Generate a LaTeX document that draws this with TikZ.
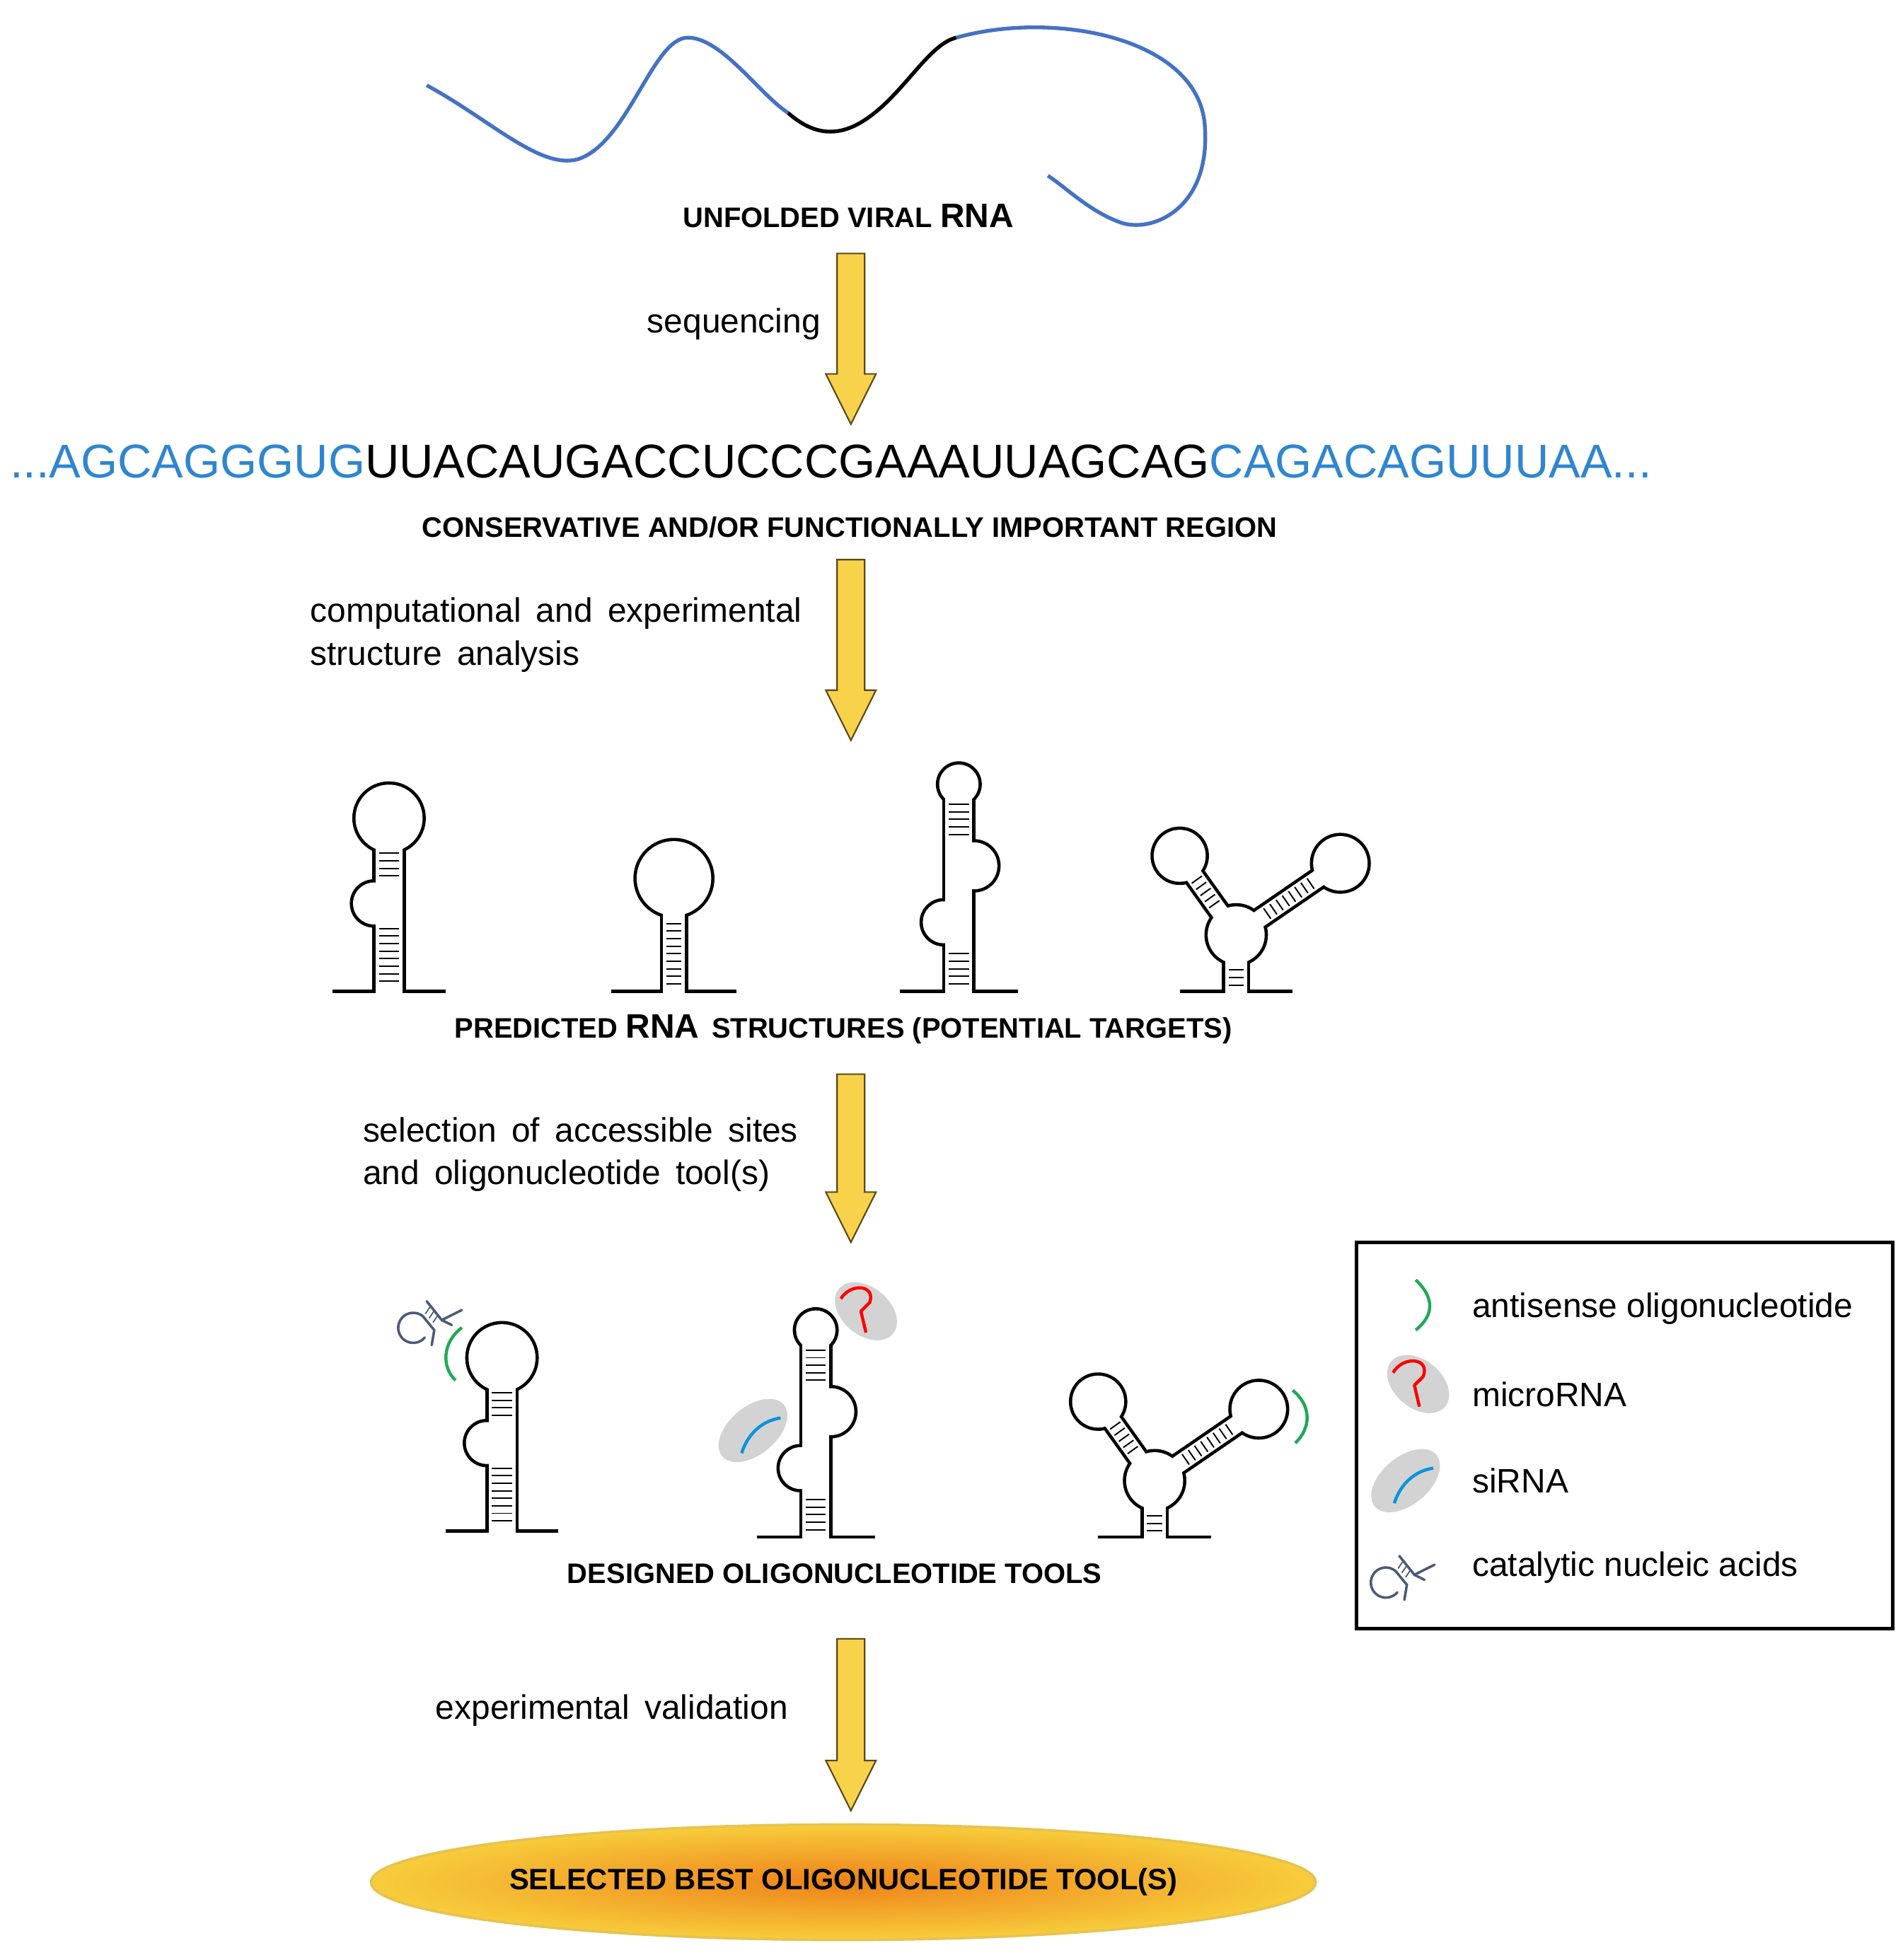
\documentclass[tikz,border=0pt]{standalone}
\usepackage{fontspec}
\setmainfont{Liberation Sans}
\usetikzlibrary{shapes.geometric,calc}
\definecolor{seqblue}{HTML}{2F86D0}
\definecolor{rnablue}{HTML}{4472C4}
\definecolor{yfill}{HTML}{F8D24B}
\definecolor{ydraw}{HTML}{5A4A1A}
\definecolor{catc}{HTML}{4A5A78}
\definecolor{agreen}{HTML}{1FAA55}
\definecolor{ogray}{HTML}{D3D3D3}
\newcommand\stm[3]{\draw[line cap=butt,line width={2*#3+\lw},draw=\col] #1 -- #2;}
\newcommand\crc[2]{\fill[\col] #1 circle[radius={#2+\lw/2}];}
\newcommand\twopass[1]{\def\lw{2.6}\def\col{black}#1\def\lw{0-2.6}\def\col{white}#1}
\newcommand\shA{\stm{(0,0)}{(0,-138)}{12}\crc{(0,-138)}{28}\crc{(-12,-70)}{18}}
\newcommand\shB{\stm{(0,0)}{(0,-90)}{10}\crc{(0,-90)}{31}}
\newcommand\shC{\stm{(0,0)}{(0,-165)}{12}\crc{(0,-165)}{17}\crc{(-12,-55)}{18}\crc{(12,-100)}{20}}
\newcommand\shD{\stm{(0,0)}{(0,-45)}{10}\crc{(0,-45)}{24}\stm{(0,-45)}{(-45,-108)}{8}\crc{(-45,-108)}{22}\stm{(0,-45)}{(83,-102)}{8}\crc{(83,-102)}{23}}
\newcommand\yarrow[2]{\draw[yarr] ($(#1)+(-11,0)$) -- ($(#2)+(-11,-40)$) -- ($(#2)+(-20,-40)$) -- (#2) -- ($(#2)+(20,-40)$) -- ($(#2)+(11,-40)$) -- ($(#1)+(11,0)$) -- cycle;}
\tikzset{
 ln/.style={line width=2.6pt},
 rung/.style={line width=1.1pt},
 yarr/.style={fill=yfill,draw=ydraw,line width=1.2pt,line join=miter},
 lab/.style={font=\fontsize{27}{34}\selectfont,align=left,inner sep=0},
 captxt/.style={font=\fontsize{22.5}{26}\selectfont\bfseries,inner sep=0},
 cat/.style={draw=catc,line width=2pt,line cap=round},
 hpA/.pic={\twopass{\shA}
  \draw[ln] (-45,0)--(-10.7,0) (10.7,0)--(45,0);
  \foreach \y in {-8,-14,...,-50} \draw[rung] (-8,\y)--(8,\y);
  \foreach \y in {-92,-98,...,-112} \draw[rung] (-8,\y)--(8,\y);},
 hpB/.pic={\twopass{\shB}
  \draw[ln] (-50,0)--(-8.7,0) (8.7,0)--(50,0);
  \foreach \y in {-6,-12,...,-56} \draw[rung] (-6,\y)--(6,\y);},
 hpC/.pic={\twopass{\shC}
  \draw[ln] (-47,0)--(-10.7,0) (10.7,0)--(47,0);
  \foreach \y in {-6,-12,...,-30} \draw[rung] (-8,\y)--(8,\y);
  \foreach \y in {-125,-131,...,-150} \draw[rung] (-8,\y)--(8,\y);},
 hpD/.pic={\twopass{\shD}
  \draw[ln] (-45,0)--(-8.7,0) (8.7,0)--(45,0);
  \foreach \y in {-5,-11,-17} \draw[rung] (-6,\y)--(6,\y);
  \begin{scope}[shift={(0,-45)},rotate=125.5]
   \foreach \t in {30,36,...,54} \draw[rung] (\t,-5)--(\t,5);
  \end{scope}
  \begin{scope}[shift={(0,-45)},rotate=34.5]
   \foreach \t in {30,36,...,76} \draw[rung] (\t,-5)--(\t,5);
  \end{scope}},
 catal/.pic={
  \draw[cat] (7,9) arc[start angle=-50,end angle=-320,radius=12];
  \draw[cat] (7,9) -- (16,20) -- (14,32);
  \draw[cat] (10,-3) -- (22,12) -- (38,4);
  \draw[cat] (22,12) -- (30,16);
  \foreach \k in {0,1,2} \draw[catc,line width=1pt] ($(9,7)+(\k*3,\k*3.5)$) -- ($(13,1)+(\k*3,\k*3.5)$);}
}
\begin{document}
\begin{tikzpicture}[x=1pt,y=-1pt]
\useasboundingbox (0,0) rectangle (1516,1562);
% unfolded RNA
\draw[rnablue,line width=3pt] (340,68) .. controls (390,95) and (430,135) .. (460,127) .. controls (500,115) and (520,30) .. (548,30) .. controls (575,30) and (605,75) .. (628,90);
\draw[black,line width=3pt] (628,90) .. controls (645,105) and (665,112) .. (690,95) .. controls (720,75) and (740,35) .. (762,30);
\draw[rnablue,line width=3pt] (762,30) .. controls (840,8) and (955,30) .. (960,100) .. controls (965,165) and (920,185) .. (895,178) .. controls (870,170) and (850,150) .. (835,140);
\node[captxt] (t1) at (676,172) {UNFOLDED VIRAL {\fontsize{27}{30}\selectfont RNA}};
% sequence
\node[inner sep=0] (seq) at (662,368) {\resizebox{1308pt}{!}{\fontsize{39}{44}\selectfont\textcolor{seqblue}{...AGCAGGGUG}UUACAUGACCUCCCGAAAUUAGCAG\textcolor{seqblue}{CAGACAGUUUAA...}}};
\node[captxt] (t2) at (677,420) {CONSERVATIVE AND/OR FUNCTIONALLY IMPORTANT REGION};
\node[captxt] (t3) at (672,820) {PREDICTED {\fontsize{27}{30}\selectfont RNA} \,STRUCTURES (POTENTIAL TARGETS)};
\node[captxt] (t4) at (665,1254) {DESIGNED OLIGONUCLEOTIDE TOOLS};
% arrows
\coordinate (a1) at (678,202); \coordinate (b1) at (678,338);
\coordinate (a2) at (678,446); \coordinate (b2) at (678,590);
\coordinate (a3) at (678,856); \coordinate (b3) at (678,990);
\coordinate (a4) at (678,1306); \coordinate (b4) at (678,1443);
\yarrow{a1}{b1}\yarrow{a2}{b2}\yarrow{a3}{b3}\yarrow{a4}{b4}
\node[lab,anchor=east] (l1) at (654,258) {sequencing};
\node[lab,anchor=west] (l2) at (247,506) {computational \,and \,experimental\\structure \,analysis};
\node[lab,anchor=west] (l3) at (289,920) {selection \,of \,accessible \,sites\\and \,oligonucleotide \,tool(s)};
\node[lab,anchor=west] (l4) at (347,1363) {experimental \,validation};
% predicted structures
\pic at (310,790) {hpA};
\pic at (537,790) {hpB};
\pic at (764,790) {hpC};
\pic at (985,790) {hpD};
% designed tools
\pic at (400,1220) {hpA};
\pic at (650,1225) {hpC};
\pic at (920,1225) {hpD};
\pic at (330,1040) {catal};
\draw[agreen,line width=2.5pt] (368,1058) .. controls (352,1070) and (352,1090) .. (363,1100);
\fill[ogray,rotate around={-40:(690,1045)}] (690,1045) ellipse[x radius=28,y radius=19];
\draw[red,line width=2.5pt,line join=round] (670,1035) .. controls (678,1022) and (698,1024) .. (693,1038) -- (686,1045) -- (690,1062);
\fill[ogray,rotate around={40:(600,1140)}] (600,1140) ellipse[x radius=32,y radius=19];
\draw[cyan!80!blue,line width=2.5pt] (591,1158) .. controls (596,1142) and (608,1132) .. (622,1130);
\draw[agreen,line width=2.5pt] (1030,1108) .. controls (1045,1120) and (1045,1138) .. (1032,1150);
% legend
\draw[line width=3pt] (1081,990) rectangle (1508,1298);
\draw[agreen,line width=2.5pt] (1128,1020) .. controls (1143,1034) and (1143,1048) .. (1128,1060);
\fill[ogray,rotate around={-40:(1130,1103)}] (1130,1103) ellipse[x radius=28,y radius=19];
\draw[red,line width=2.5pt,line join=round] (1110,1094) .. controls (1118,1080) and (1140,1082) .. (1134,1097) -- (1127,1104) -- (1131,1121);
\fill[ogray,rotate around={40:(1120,1180)}] (1120,1180) ellipse[x radius=32,y radius=19];
\draw[cyan!80!blue,line width=2.5pt] (1111,1198) .. controls (1116,1182) and (1128,1172) .. (1142,1170);
\pic at (1105,1243) {catal};
\node[lab,anchor=west] (g1) at (1173,1043) {antisense oligonucleotide};
\node[lab,anchor=west] (g2) at (1173,1111) {microRNA};
\node[lab,anchor=west] (g3) at (1173,1180) {siRNA};
\node[lab,anchor=west] (g4) at (1173,1249) {catalytic nucleic acids};
% result
\node[ellipse,inner sep=0pt,minimum width=670pt,minimum height=92pt,inner color={rgb,255:red,238;green,130;blue,25},outer color={rgb,255:red,247;green,205;blue,60},draw={rgb,255:red,230;green,195;blue,80},line width=2pt,font=\fontsize{23.5}{27}\selectfont\bfseries] (res) at (672,1500) {SELECTED BEST OLIGONUCLEOTIDE TOOL(S)};
\end{tikzpicture}
\end{document}
